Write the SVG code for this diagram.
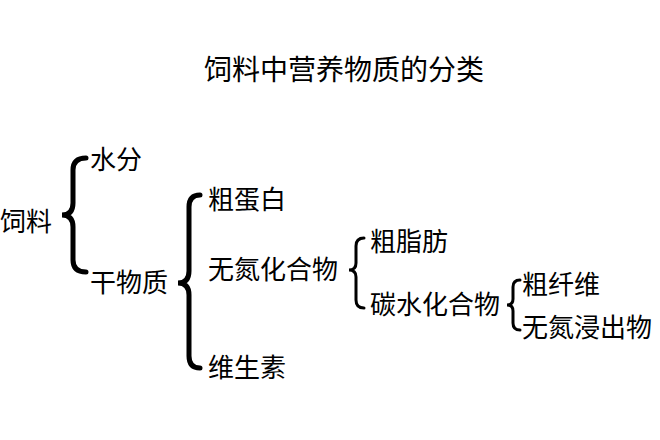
<svg xmlns="http://www.w3.org/2000/svg" width="660" height="440" viewBox="0 0 660 440">
<style>
text{font-family:"Liberation Sans","Noto Sans CJK SC",sans-serif;font-size:26px;fill:#000}
.b{fill:none;stroke:#000;stroke-linecap:round}
</style>
<rect width="660" height="440" fill="#fff"/>
<text id="title" x="344" y="80" text-anchor="middle" style="font-size:28px">饲料中营养物质的分类</text>
<g id="n-siliao"><text x="0" y="231">饲料</text></g>
<g id="n-shuifen"><text x="90" y="169">水分</text></g>
<g id="n-ganwuzhi"><text x="90" y="292">干物质</text></g>
<g id="n-cudanbai"><text x="208" y="209">粗蛋白</text></g>
<g id="n-wudanhuahewu"><text x="208" y="279">无氮化合物</text></g>
<g id="n-weishengsu"><text x="208" y="377">维生素</text></g>
<g id="n-cuzhifang"><text x="370" y="251">粗脂肪</text></g>
<g id="n-tanshui"><text x="370" y="314">碳水化合物</text></g>
<g id="n-cuxianwei"><text x="522" y="294">粗纤维</text></g>
<g id="n-wudanjin"><text x="522" y="337">无氮浸出物</text></g>
<g id="connectors">
<path class="b" stroke-width="5" d="M86,158 Q73,158 73,170 L73,203 Q73,215 62,215 Q73,215 73,227 L73,260 Q73,272 86,272"/>
<path class="b" stroke-width="5" d="M200,195 Q189,195 189,207 L189,271 Q189,283 178,283 Q189,283 189,295 L189,356 Q189,368 200,368"/>
<path class="b" stroke-width="3" d="M364,238 Q356,238 356,246 L356,263 Q356,270 349,270 Q356,270 356,277 L356,300 Q356,308 364,308"/>
<path class="b" stroke-width="3" d="M520,280 Q513,280 513,287 L513,299 Q513,305 507,305 Q513,305 513,311 L513,323 Q513,330 520,330"/>
</g>
</svg>
